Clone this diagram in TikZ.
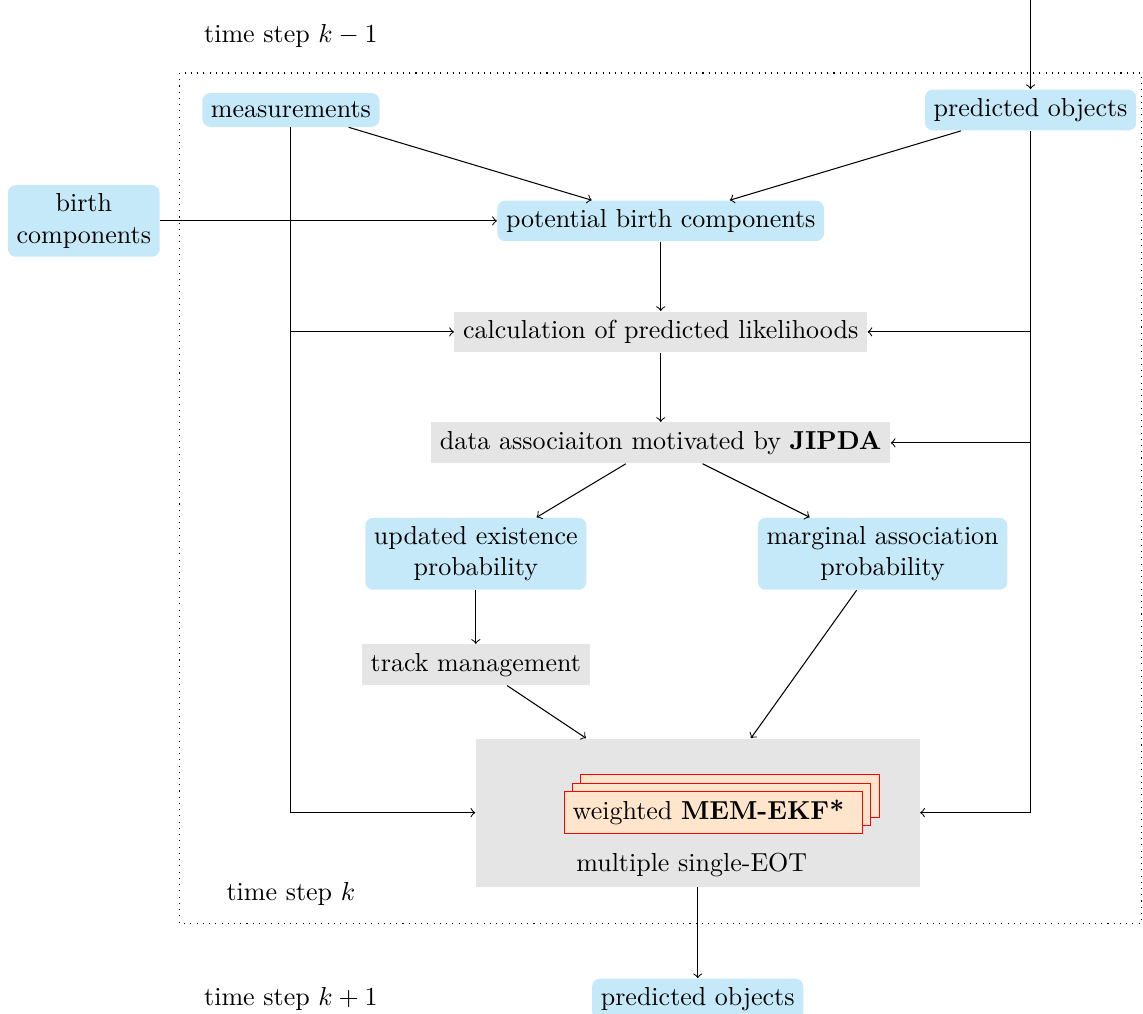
\documentclass[tikz,border=0pt]{standalone}
\usepackage{xcolor}
\usepackage{tikz}
\usetikzlibrary{positioning, shadows}

\definecolor{lightsky}{RGB}{197,233,248}

\tikzset{
    bluebox/.style={rectangle, rounded corners=3pt, fill=lightsky, align=center},
    graybox/.style={rectangle, fill=gray!20, align=center},
    memstack/.style={rectangle, draw=red, fill=orange!20, text width=3.8cm, align=left,
        double copy shadow={shadow xshift=3.2pt, shadow yshift=3.2pt, draw=red, fill=orange!20}},
}

\begin{document}
\begin{tikzpicture}
    \useasboundingbox (-3.933,1.487) rectangle (11.52,-12.22);
    	\node[bluebox] (meas) at (0,0) {measurements};
    	\node[bluebox] (predtop) at (10,0) {predicted objects};
    	\node[bluebox] (birth) at (-2.8,-1.5) {birth\\components};
    	\node[bluebox] (pbc) at (5,-1.5) {potential birth components};
    	\node[graybox] (calc) [below=1.5cm of pbc.center, anchor=center] {calculation of predicted likelihoods};
    	\node[graybox] (jipda) [below=1.5cm of calc.center, anchor=center] {data associaiton motivated by \textbf{JIPDA}};
    	\node[bluebox] (upd) at (2.5,-6) {updated existence\\probability};
    	\node[bluebox] (marg) at (8,-6) {marginal association\\probability};
    	\node[graybox] (track) [below=1.5cm of upd.center, anchor=center] {track management};
    	\node[graybox, minimum width=6cm, minimum height=2cm] (eot) at (5.5,-9.5) {};
    	\node[memstack] (mem) at (5.71,-9.5) {weighted \textbf{MEM-EKF*}};
    	\node (eotlabel) at (5.42,-10.21) {multiple single-EOT};
    	\node[bluebox] (predbot) at (5.5,-12.02) {predicted objects};
    %	time steps
    	\node (tprev) at (0,1) {time step $k-1$};
    	\node (tcur) at (0,-10.6) {time step $k$};
    	\node (tnext) at (0,-12.02) {time step $k+1$};
    %
    	\draw[dotted] (-1.5,0.5) rectangle (11.5,-11);
    	\coordinate (prev) at (10,1.487);
    	\coordinate (mc) at (meas |- calc);
    	\coordinate (pc) at (predtop |- calc);
    	\coordinate (pj) at (predtop |- jipda);
    %
    	\path[->] (prev) edge (predtop)
    	 (meas) edge (pbc)
    	 (predtop) edge (pbc)
    	 (birth) edge (pbc)
    	 (pbc) edge (calc)
    	 (calc) edge (jipda)
    	 (jipda) edge (upd)
    	 (jipda) edge (marg)
    	 (upd) edge (track)
    	 (track) edge (eot)
    	 (marg) edge (eot)
    	 (eot) edge (predbot)
    	 (mc) edge (calc)
    	 (pc) edge (calc)
    	 (pj) edge (jipda);
    	\draw[->] (meas) |- (eot);
    	\draw[->] (predtop) |- (eot);
    \end{tikzpicture}
\end{document}
